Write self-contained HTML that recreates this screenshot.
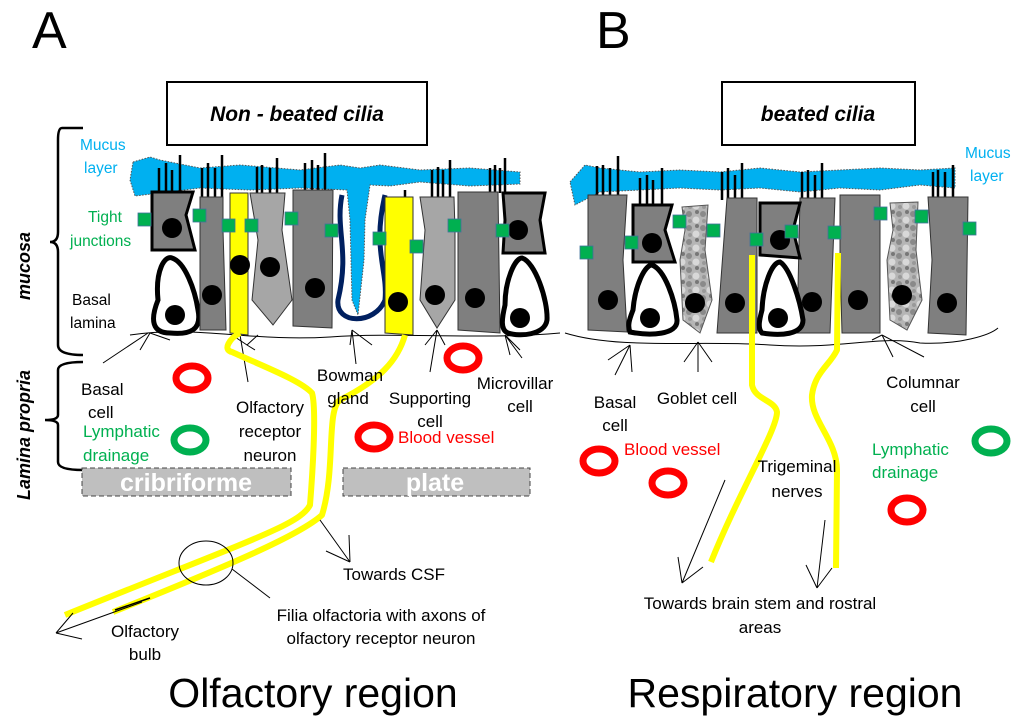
<!DOCTYPE html>
<html><head><meta charset="utf-8"><style>
html,body{margin:0;padding:0;background:#fff;}
svg{display:block;font-family:"Liberation Sans",sans-serif;}
</style></head><body>
<svg width="1024" height="724" viewBox="0 0 1024 724" xmlns="http://www.w3.org/2000/svg">
<defs>
<pattern id="mot" width="14" height="14" patternUnits="userSpaceOnUse">
<rect width="14" height="14" fill="#b5b5b5"/>
<circle cx="3" cy="4" r="3" fill="#8a8a8a"/><circle cx="10" cy="10" r="3.5" fill="#d8d8d8"/><circle cx="11" cy="2" r="2" fill="#777"/><circle cx="4" cy="11" r="2" fill="#999"/>
</pattern>
</defs>
<text x="32" y="48" font-size="52">A</text>
<text x="596" y="48" font-size="52">B</text>
<rect x="167" y="82" width="260" height="63" fill="#fff" stroke="#000" stroke-width="2"/>
<text x="297" y="121" font-size="21" font-weight="bold" font-style="italic" text-anchor="middle">Non - beated cilia</text>
<rect x="722" y="82" width="193" height="63" fill="#fff" stroke="#000" stroke-width="2"/>
<text x="818" y="121" font-size="21" font-weight="bold" font-style="italic" text-anchor="middle">beated cilia</text>

<path d="M133,162 L150,157 L160,160 L200,168 L240,165 L300,170 L340,165 L360,168 L380,165 L420,170 L470,168 L520,172 L520,184 L470,186 L420,182 L390,186 L370,185 L365,220 L364,260 L358,315 L352,300 L350,220 L347,190 L300,188 L250,190 L200,188 L160,193 L135,196 L130,180 Z" fill="#00b0f0" stroke="#555" stroke-width="1" stroke-dasharray="1.5,1.5"/>
<g stroke="#000" stroke-width="2.5">
<path d="M159,195V168M166,195V163M172,195V170M180,195V155"/>
<path d="M202,197V168M208,197V163M215,197V168M222,197V155"/>
<path d="M257,195V167M262,195V165M270,195V168M277,195V158"/>
<path d="M305,192V163M312,192V160M318,192V165M325,192V153"/>
<path d="M405,197V190"/>
<path d="M432,197V170M438,197V167M443,197V170M450,197V160"/>
<path d="M490,193V168M495,193V165M500,193V168M505,193V158"/>
</g>
<path d="M152,192 L193,192 L186,215 L195,250 L152,250 Z" fill="#7f7f7f" stroke="#000" stroke-width="3"/>
<path d="M158,300 C155,270 165,255 172,258 C185,262 195,290 198,310 C202,330 190,335 170,333 C152,333 150,320 158,300 Z" fill="#fff" stroke="#000" stroke-width="5"/>
<path d="M200,197 L223,197 L223,230 L226,330 L200,330 Z" fill="#7f7f7f" stroke="#333"/>
<path d="M230,193 L248,193 L248,335 L230,333 Z" fill="#ffff00" stroke="#333"/>
<path d="M250,193 L285,193 L282,230 L292,300 L273,325 L252,300 L258,240 Z" fill="#a6a6a6" stroke="#333"/>
<path d="M293,190 L333,190 L332,328 L293,326 Z" fill="#7f7f7f" stroke="#333"/>
<path d="M342,195 C335,230 350,250 338,300 C335,325 375,325 385,300 C388,270 372,250 385,195" fill="none" stroke="#002060" stroke-width="5"/>
<path d="M385,197 L413,197 L413,335 L385,333 Z" fill="#ffff00" stroke="#333"/>
<path d="M420,197 L454,197 L455,230 L455,300 L437,328 L420,300 L425,230 Z" fill="#a6a6a6" stroke="#333"/>
<path d="M458,192 L498,192 L500,333 L458,330 Z" fill="#7f7f7f" stroke="#333"/>
<path d="M503,193 L545,193 L540,220 L545,253 L503,253 L505,220 Z" fill="#7f7f7f" stroke="#000" stroke-width="3"/>
<path d="M505,305 C505,280 515,258 522,258 C535,262 548,300 547,320 C545,335 520,337 508,333 C500,330 502,318 505,305 Z" fill="#fff" stroke="#000" stroke-width="5"/>
<g fill="#000">
<circle cx="172" cy="228" r="10"/><circle cx="175" cy="315" r="10"/><circle cx="212" cy="295" r="10"/><circle cx="240" cy="265" r="10"/><circle cx="270" cy="267" r="10"/><circle cx="315" cy="288" r="10"/><circle cx="398" cy="302" r="10"/><circle cx="435" cy="295" r="10"/><circle cx="475" cy="298" r="10"/><circle cx="518" cy="230" r="10"/><circle cx="520" cy="318" r="10"/>
</g>
<g fill="#00b050" stroke="#41719c" stroke-width="0.8">
<rect x="138" y="213" width="13" height="13"/><rect x="193" y="209" width="13" height="13"/><rect x="222" y="219" width="13" height="13"/><rect x="245" y="219" width="13" height="13"/><rect x="285" y="212" width="13" height="13"/><rect x="325" y="224" width="13" height="13"/><rect x="373" y="232" width="13" height="13"/><rect x="410" y="240" width="13" height="13"/><rect x="448" y="219" width="13" height="13"/><rect x="496" y="224" width="13" height="13"/>
</g>
<path d="M130,335 C200,325 250,342 330,337 C400,332 480,340 560,333" fill="none" stroke="#000" stroke-width="1"/>
<g stroke="#000" stroke-width="1" fill="none">
<path d="M103,363 L148,333 M140,350 L150,333 M150,333 L170,340"/>
<path d="M248,382 L240,335 M247,345 L232,335 M247,345 L255,350 M247,345 L258,335"/>
<path d="M356,364 L352,330 M352,330 L350,345 M352,330 L372,345"/>
<path d="M430,372 L437,330 M437,330 L425,345 M437,330 L445,345"/>
<path d="M522,358 L505,335 M505,335 L520,350 M505,335 L510,355"/>
</g>
<g stroke="#ffff00" stroke-width="6" fill="none" stroke-linejoin="round">
<path d="M240,333 C230,338 222,350 232,352 C260,365 300,380 312,393 C317,410 312,480 310,505 C300,525 250,540 65,615"/>
<path d="M405,335 C398,360 380,380 340,400 C326,410 336,470 322,515 C300,535 230,565 113,612"/>
</g>
<path d="M115,610 L150,598" stroke="#000" stroke-width="1.5"/>
<ellipse cx="206" cy="563" rx="27" ry="22" fill="none" stroke="#000" stroke-width="1"/>
<g stroke="#000" stroke-width="1" fill="none">
<path d="M232,569 L270,598"/>
<path d="M320,520 L350,562 M350,562 L349,535 M350,562 L326,551"/>
<path d="M142,602 L56,633 M56,633 L82,639 M56,633 L73,613"/>
</g>
<g stroke="#000" stroke-width="2.5" fill="none">
<path d="M83,128 L62,128 Q58,128 58,140 L58,232 Q58,242 50,242 Q58,242 58,252 L58,345 Q58,355 83,355"/>
<path d="M83,362 Q58,362 58,370 L58,415 Q58,420 45,420 Q58,420 58,425 L58,462 Q58,470 83,470"/>
</g>
<text transform="translate(30,300) rotate(-90)" font-size="18" font-weight="bold" font-style="italic">mucosa</text>
<text transform="translate(30,500) rotate(-90)" font-size="18" font-weight="bold" font-style="italic">Lamina propria</text>
<g font-size="15.5">
<text x="80" y="150" fill="#00b0f0">Mucus</text><text x="84" y="173" fill="#00b0f0">layer</text>
<text x="88" y="222" fill="#00b050">Tight</text><text x="70" y="246" fill="#00b050">junctions</text>
<text x="72" y="305">Basal</text><text x="70" y="328">lamina</text>
</g>
<g font-size="17">
<text x="81" y="395">Basal</text><text x="88" y="418">cell</text>
<text x="83" y="437" fill="#00b050">Lymphatic</text><text x="83" y="461" fill="#00b050">drainage</text>
<text x="270" y="413" text-anchor="middle">Olfactory</text><text x="270" y="437" text-anchor="middle">receptor</text><text x="270" y="461" text-anchor="middle">neuron</text>
<text x="350" y="381" text-anchor="middle">Bowman</text><text x="348" y="404" text-anchor="middle">gland</text>
<text x="430" y="404" text-anchor="middle">Supporting</text><text x="430" y="427" text-anchor="middle">cell</text>
<text x="398" y="443" fill="#ff0000">Blood vessel</text>
<text x="515" y="389" text-anchor="middle">Microvillar</text><text x="520" y="412" text-anchor="middle">cell</text>
<text x="394" y="580" text-anchor="middle">Towards CSF</text>
<text x="381" y="621" text-anchor="middle">Filia olfactoria with axons of</text>
<text x="381" y="644" text-anchor="middle">olfactory receptor neuron</text>
<text x="145" y="637" text-anchor="middle">Olfactory</text><text x="145" y="660" text-anchor="middle">bulb</text>
</g>
<rect x="82" y="468" width="209" height="28" fill="#bfbfbf" stroke="#444" stroke-dasharray="5,3"/>
<text x="186" y="491" font-size="25" font-weight="bold" fill="#fff" text-anchor="middle">cribriforme</text>
<rect x="343" y="468" width="187" height="28" fill="#bfbfbf" stroke="#444" stroke-dasharray="5,3"/>
<text x="435" y="491" font-size="25" font-weight="bold" fill="#fff" text-anchor="middle">plate</text>
<g fill="none" stroke-width="7">
<ellipse cx="192" cy="378" rx="16" ry="12" stroke="#ff0000"/>
<ellipse cx="463" cy="358" rx="16" ry="12" stroke="#ff0000"/>
<ellipse cx="374" cy="437" rx="16" ry="12" stroke="#ff0000"/>
<ellipse cx="190" cy="440" rx="16" ry="12" stroke="#00b050"/>
</g>

<path d="M570,182 L585,165 L600,168 L640,172 L680,170 L720,172 L760,168 L800,172 L840,170 L880,168 L920,170 L955,168 L955,188 L920,185 L880,190 L840,188 L800,192 L760,188 L720,190 L680,188 L640,190 L600,192 L575,205 Z" fill="#00b0f0" stroke="#555" stroke-width="1" stroke-dasharray="1.5,1.5"/>
<g stroke="#000" stroke-width="2.5">
<path d="M597,195V166M603,195V165M610,195V168M618,195V156"/>
<path d="M640,207V178M647,207V175M653,207V180M662,207V168"/>
<path d="M722,200V172M728,200V168M735,200V175M742,200V163"/>
<path d="M802,200V172M808,200V170M815,200V175M822,200V163"/>
<path d="M933,197V172M938,197V170M945,197V172M953,197V165"/>
</g>
<path d="M588,195 L627,195 L623,260 L627,332 L588,330 Z" fill="#7f7f7f" stroke="#333"/>
<path d="M727,198 L757,198 L757,333 L717,333 Z" fill="#7f7f7f" stroke="#333"/>
<path d="M800,198 L835,198 L830,333 L797,333 Z" fill="#7f7f7f" stroke="#333"/>
<path d="M840,195 L880,195 L880,333 L842,333 L840,260 Z" fill="#7f7f7f" stroke="#333"/>
<path d="M928,197 L968,197 L966,335 L928,333 L932,260 Z" fill="#7f7f7f" stroke="#333"/>
<path d="M682,207 L708,205 L705,250 L712,300 L700,333 L683,320 L680,260 L685,230 Z" fill="url(#mot)" stroke="#555"/>
<path d="M890,203 L918,202 L916,250 L922,300 L907,330 L890,320 L887,260 L893,230 Z" fill="url(#mot)" stroke="#555"/>
<path d="M633,205 L672,205 L665,230 L675,262 L633,262 Z" fill="#7f7f7f" stroke="#000" stroke-width="3"/>
<path d="M760,203 L800,203 L793,230 L800,258 L760,255 Z" fill="#7f7f7f" stroke="#000" stroke-width="3"/>
<path d="M633,310 C635,285 645,265 652,265 C665,270 675,300 677,320 C678,335 650,336 630,332 C627,325 630,318 633,310 Z" fill="#fff" stroke="#000" stroke-width="5"/>
<path d="M762,310 C763,285 772,262 780,262 C790,268 800,300 803,320 C803,335 780,336 762,333 C757,328 760,318 762,310 Z" fill="#fff" stroke="#000" stroke-width="5"/>
<g fill="#000">
<circle cx="608" cy="300" r="10"/><circle cx="652" cy="243" r="10"/><circle cx="650" cy="318" r="10"/><circle cx="695" cy="303" r="10"/><circle cx="735" cy="303" r="10"/><circle cx="780" cy="240" r="10"/><circle cx="778" cy="318" r="10"/><circle cx="812" cy="302" r="10"/><circle cx="858" cy="300" r="10"/><circle cx="902" cy="295" r="10"/><circle cx="947" cy="303" r="10"/>
</g>
<g fill="#00b050" stroke="#41719c" stroke-width="0.8">
<rect x="580" y="246" width="13" height="13"/><rect x="625" y="236" width="13" height="13"/><rect x="673" y="215" width="13" height="13"/><rect x="707" y="224" width="13" height="13"/><rect x="750" y="233" width="13" height="13"/><rect x="785" y="225" width="13" height="13"/><rect x="828" y="226" width="13" height="13"/><rect x="874" y="207" width="13" height="13"/><rect x="915" y="210" width="13" height="13"/><rect x="963" y="222" width="13" height="13"/>
</g>
<path d="M565,333 C620,350 700,340 770,345 C840,350 880,335 920,343 C960,345 990,335 998,328" fill="none" stroke="#000" stroke-width="1"/>
<g stroke="#000" stroke-width="1" fill="none">
<path d="M615,375 L630,345 M630,345 L608,360 M630,345 L632,372"/>
<path d="M698,372 L698,342 M698,342 L684,362 M698,342 L712,362"/>
<path d="M893,357 L882,335 M882,335 L924,357 M882,335 L872,340"/>
<path d="M725,480 L682,583 M682,583 L678,557 M682,583 L703,567"/>
<path d="M825,520 L817,588 M817,588 L806,565 M817,588 L832,568"/>
</g>
<g stroke="#ffff00" stroke-width="6" fill="none" stroke-linejoin="round">
<path d="M752,255 L752,385 C755,400 775,400 777,412 C777,430 740,490 711,562"/>
<path d="M838,253 L837,350 C830,365 815,372 812,395 C810,420 837,440 837,470 L836,568"/>
</g>
<g fill="none" stroke-width="7">
<ellipse cx="599" cy="461" rx="16" ry="12" stroke="#ff0000"/>
<ellipse cx="668" cy="483" rx="16" ry="12" stroke="#ff0000"/>
<ellipse cx="907" cy="510" rx="16" ry="12" stroke="#ff0000"/>
<ellipse cx="991" cy="441" rx="16" ry="12" stroke="#00b050"/>
</g>
<g font-size="15.5">
<text x="965" y="158" fill="#00b0f0">Mucus</text><text x="970" y="181" fill="#00b0f0">layer</text>
</g>
<g font-size="17">
<text x="615" y="408" text-anchor="middle">Basal</text><text x="615" y="431" text-anchor="middle">cell</text>
<text x="697" y="404" text-anchor="middle">Goblet cell</text>
<text x="624" y="455" fill="#ff0000">Blood vessel</text>
<text x="797" y="472" text-anchor="middle">Trigeminal</text><text x="797" y="497" text-anchor="middle">nerves</text>
<text x="923" y="388" text-anchor="middle">Columnar</text><text x="923" y="412" text-anchor="middle">cell</text>
<text x="872" y="455" fill="#00b050">Lymphatic</text><text x="872" y="478" fill="#00b050">drainage</text>
<text x="760" y="609" text-anchor="middle">Towards brain stem and rostral</text>
<text x="760" y="633" text-anchor="middle">areas</text>
</g>
<text x="313" y="707" font-size="41" text-anchor="middle">Olfactory region</text>
<text x="795" y="707" font-size="41" text-anchor="middle">Respiratory region</text>
</svg>
</body></html>
